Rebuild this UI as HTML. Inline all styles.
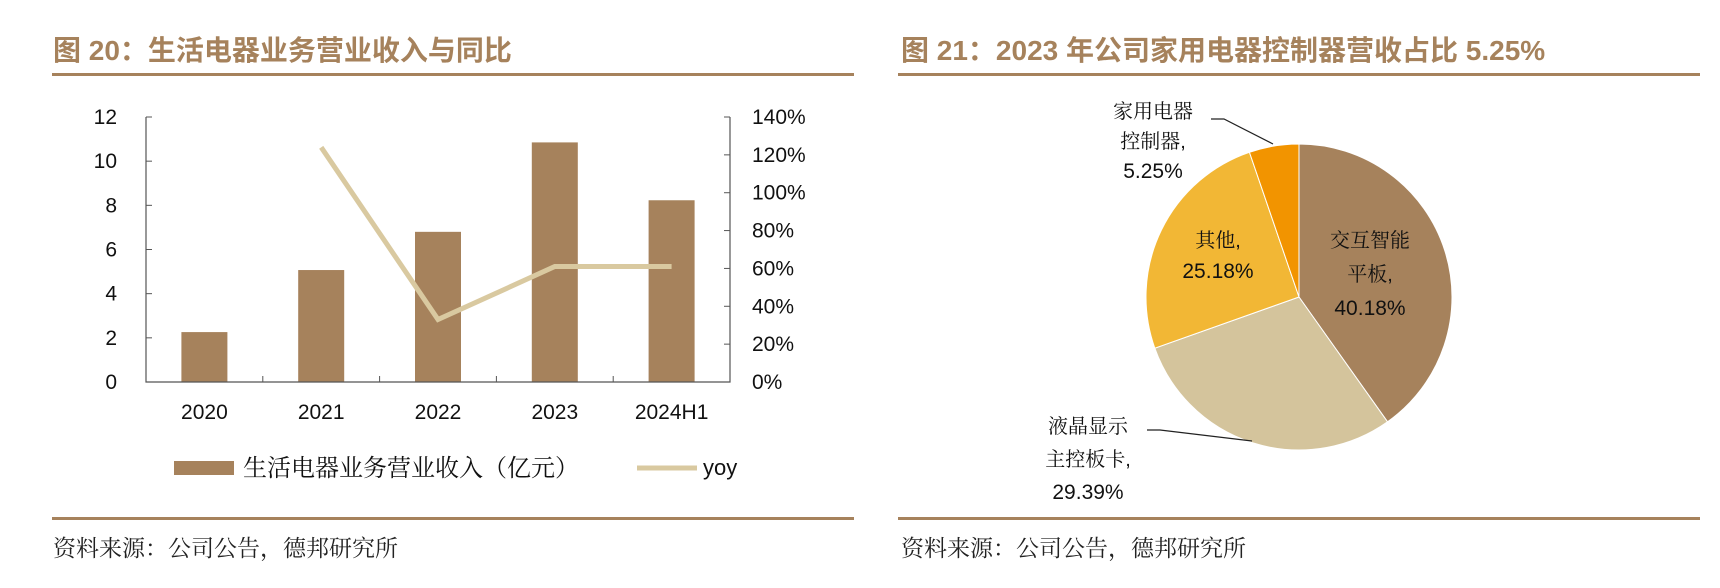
<!DOCTYPE html>
<html><head><meta charset="utf-8"><style>
body{margin:0;width:1720px;height:588px;background:#fff;overflow:hidden;font-family:"Liberation Sans","Noto Sans CJK SC",sans-serif;}
svg{position:absolute;left:0;top:0}
.sr{font-family:"Liberation Sans","Noto Serif CJK SC",serif}
</style></head><body>
<svg width="1720" height="588" viewBox="0 0 1720 588" xmlns="http://www.w3.org/2000/svg" font-family="Liberation Sans, Noto Sans CJK SC, sans-serif">
<text x="53" y="60" font-size="28" font-weight="bold" fill="#a6825c">图 20：生活电器业务营业收入与同比</text>
<rect x="52" y="73" width="802" height="3" fill="#a6825c"/>
<g id="chart"></g>
<rect x="52" y="517" width="802" height="3" fill="#a6825c"/>
<text class="sr" x="53" y="556" font-size="23" fill="#222">资料来源：公司公告，德邦研究所</text>

<text x="901" y="60" font-size="28" font-weight="bold" fill="#a6825c">图 21：2023 年公司家用电器控制器营收占比 5.25%</text>
<rect x="898" y="73" width="802" height="3" fill="#a6825c"/>
<g id="pie"></g>
<rect x="898" y="517" width="802" height="3" fill="#a6825c"/>
<text class="sr" x="901" y="556" font-size="23" fill="#222">资料来源：公司公告，德邦研究所</text>
</svg>
<script>
const categories=["2020","2021","2022","2023","2024H1"];
const revenue=[2.26,5.07,6.8,10.85,8.23];
const yoy=[null,124,33,61,61];
const leftTicks=[0,2,4,6,8,10,12];
const rightTicks=[0,20,40,60,80,100,120,140];
const pieLabels=[["交互智能","平板,","40.18%"],["液晶显示","主控板卡,","29.39%"],["其他,","25.18%"],["家用电器","控制器,","5.25%"]];
const pieValues=[40.18,29.39,25.18,5.25];
const pieColors=["#a6825c","#d4c49c","#f2b735","#f29400"];

const NS="http://www.w3.org/2000/svg";
function mk(p,t,a,txt){const e=document.createElementNS(NS,t);for(const k in a)e.setAttribute(k,a[k]);if(txt!=null)e.textContent=txt;p.appendChild(e);return e;}
const g=document.getElementById('chart');
const X0=146,X1=730,Y0=382,Y1=117;
const yL=v=>Y0-(v-0)/12*(Y0-Y1);
const yR=v=>Y0-v/140*(Y0-Y1);
const cw=(X1-X0)/categories.length;
const xc=i=>X0+cw*(i+0.5);
revenue.forEach((v,i)=>{
 const r=mk(g,'rect',{x:xc(i)-23,y:yL(v),width:46,height:Y0-yL(v),fill:'#a6825c'});
 
 
});
mk(g,'path',{d:`M${X0},${Y1}V${Y0}H${X1}V${Y1}`,stroke:'#555',fill:'none','stroke-width':1.2});
leftTicks.forEach(t=>{
 mk(g,'line',{x1:X0,x2:X0+6,y1:yL(t),y2:yL(t),stroke:'#555'});
 const e=mk(g,'text',{x:117,y:yL(t)+7,'text-anchor':'end','font-size':21,fill:'#111'},t);
 
 
});
rightTicks.forEach(t=>{
 mk(g,'line',{x1:X1-6,x2:X1,y1:yR(t),y2:yR(t),stroke:'#555'});
 const e=mk(g,'text',{x:752,y:yR(t)+7,'font-size':21,fill:'#111'},t+'%');
 
 
});
categories.forEach((c,i)=>{
 if(i>0)mk(g,'line',{x1:X0+cw*i,x2:X0+cw*i,y1:Y0,y2:Y0-6,stroke:'#555'});
 const e=mk(g,'text',{x:xc(i),y:419,'text-anchor':'middle','font-size':21,fill:'#111'},c);
 
 
});
let pts=[];yoy.forEach((v,i)=>{if(v!=null)pts.push(xc(i)+','+yR(v));});
const ln=mk(g,'polyline',{points:pts.join(' '),fill:'none',stroke:'#d9c9a0','stroke-width':5});


const l1=mk(g,'rect',{x:174,y:461,width:60,height:14,fill:'#a6825c'});


const l1t=mk(g,'text',{x:243,y:476,'font-size':24,fill:'#111',class:'sr'},'生活电器业务营业收入（亿元）');


const l2=mk(g,'line',{x1:637,x2:697,y1:468,y2:468,stroke:'#d9c9a0','stroke-width':5});


const l2t=mk(g,'text',{x:703,y:475,'font-size':22,fill:'#111'},'yoy');



const p=document.getElementById('pie');
const cx=1299,cy=297,R=153;
const total=pieValues.reduce((a,b)=>a+b,0);
let a0=0;
pieValues.forEach((v,i)=>{
 const a1=a0+v/total*2*Math.PI;
 const x0=cx+R*Math.sin(a0),y0=cy-R*Math.cos(a0),x1=cx+R*Math.sin(a1),y1=cy-R*Math.cos(a1);
 const s=mk(p,'path',{d:`M${cx},${cy}L${x0},${y0}A${R},${R} 0 ${a1-a0>Math.PI?1:0} 1 ${x1},${y1}Z`,fill:pieColors[i],stroke:'#fff','stroke-width':1});
 
 
 a0=a1;
});
mk(p,'polyline',{points:'1211,119 1224,119 1273,144',fill:'none',stroke:'#222','stroke-width':1.2});
mk(p,'polyline',{points:'1147,430 1160,430 1252,441',fill:'none',stroke:'#222','stroke-width':1.2});
const labelPos=[[1370,247,34],[1088,433,33],[1218,247,31],[1153,118,30]];
pieLabels.forEach((lines,i)=>{
 const [x,y,dy]=labelPos[i];
 lines.forEach((t,j)=>{
  const e=mk(p,'text',{x:x,y:y+dy*j,'text-anchor':'middle','font-size':j===lines.length-1?21:20,fill:'#111',class:'sr'},t);
  
  
 });
});
</script>
</body></html>
